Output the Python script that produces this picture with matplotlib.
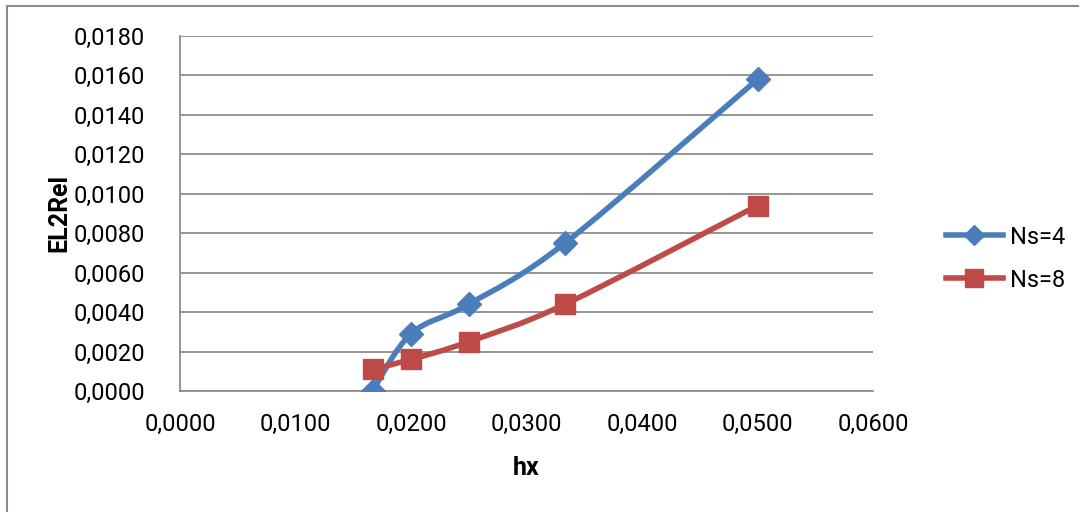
import matplotlib.pyplot as plt
from matplotlib.path import Path
from matplotlib.patches import PathPatch, Rectangle
from matplotlib.lines import Line2D
from matplotlib.ticker import FuncFormatter, MultipleLocator

plt.rcParams['font.family'] = ['Roboto', 'DejaVu Sans']

# donnees
hx = [0.01667, 0.0200, 0.0250, 0.03333, 0.0500]
ns4 = [0.0000, 0.0029, 0.0044, 0.0075, 0.0158]
ns8 = [0.0011, 0.0016, 0.0025, 0.0044, 0.0094]
noms = ["Ns=4", "Ns=8"]

bleu = "#4A7EBB"
rouge = "#BE4B48"


# courbe lissee facon Excel (spline de Catmull-Rom en Bezier)
def lisse(x, y):
    n = len(x)
    pts = list(zip(x, y))
    verts = [pts[0]]
    codes = [Path.MOVETO]
    for i in range(n - 1):
        p0 = pts[i - 1] if i > 0 else pts[i]
        p1 = pts[i]
        p2 = pts[i + 1]
        p3 = pts[i + 2] if i + 2 < n else pts[i + 1]
        c1 = (p1[0] + (p2[0] - p0[0]) / 6, p1[1] + (p2[1] - p0[1]) / 6)
        c2 = (p2[0] - (p3[0] - p1[0]) / 6, p2[1] - (p3[1] - p1[1]) / 6)
        verts += [c1, c2, p2]
        codes += [Path.CURVE4] * 3
    return Path(verts, codes)


def virgule(v, pos):
    return ("%.4f" % v).replace(".", ",")


fig = plt.figure(figsize=(10.79, 5.12), dpi=100)
fig.patches.append(Rectangle((7 / 1079, -0.1), 1.2, 506 / 512 + 0.1,
                             transform=fig.transFigure, fill=False,
                             edgecolor="#8c8c8c", linewidth=1.5))
ax = fig.add_axes([180 / 1079, 121 / 512, 693 / 1079, 355 / 512])

ax.add_patch(PathPatch(lisse(hx, ns4), facecolor="none", edgecolor=bleu,
                       linewidth=4, capstyle="round", zorder=3))
ax.add_patch(PathPatch(lisse(hx, ns8), facecolor="none", edgecolor=rouge,
                       linewidth=4, capstyle="round", zorder=3))
ax.plot(hx, ns4, linestyle="none", marker="D", markersize=12, color=bleu, zorder=4)
ax.plot(hx, ns8, linestyle="none", marker="s", markersize=15, color=rouge, zorder=4)

ax.set_xlim(0, 0.06)
ax.set_ylim(0, 0.018)
ax.xaxis.set_major_locator(MultipleLocator(0.01))
ax.yaxis.set_major_locator(MultipleLocator(0.002))
ax.xaxis.set_major_formatter(FuncFormatter(virgule))
ax.yaxis.set_major_formatter(FuncFormatter(virgule))
ax.tick_params(length=0, labelsize=17, pad=16)
ax.tick_params(axis="y", pad=25)
ax.grid(axis="y", color="#8c8c8c", linewidth=1.3)
ax.set_axisbelow(True)
for s in ["top", "right"]:
    ax.spines[s].set_visible(False)
for s in ["left", "bottom"]:
    ax.spines[s].set_color("#8c8c8c")
    ax.spines[s].set_linewidth(1.3)

ax.set_xlabel("hx", fontsize=18, fontweight="bold", labelpad=14)
ax.set_ylabel("EL2Rel", fontsize=18, fontweight="bold", labelpad=2)

poignees = [Line2D([], [], color=bleu, linewidth=4, marker="D", markersize=10),
            Line2D([], [], color=rouge, linewidth=4, marker="s", markersize=13)]
fig.legend(poignees, noms, loc="center left", bbox_to_anchor=(946 / 1079, 0.495),
           frameon=False, fontsize=17, handlelength=2.4, handletextpad=0.3,
           labelspacing=0.85, borderaxespad=0, borderpad=0)

fig.savefig("out.png", dpi=100)
